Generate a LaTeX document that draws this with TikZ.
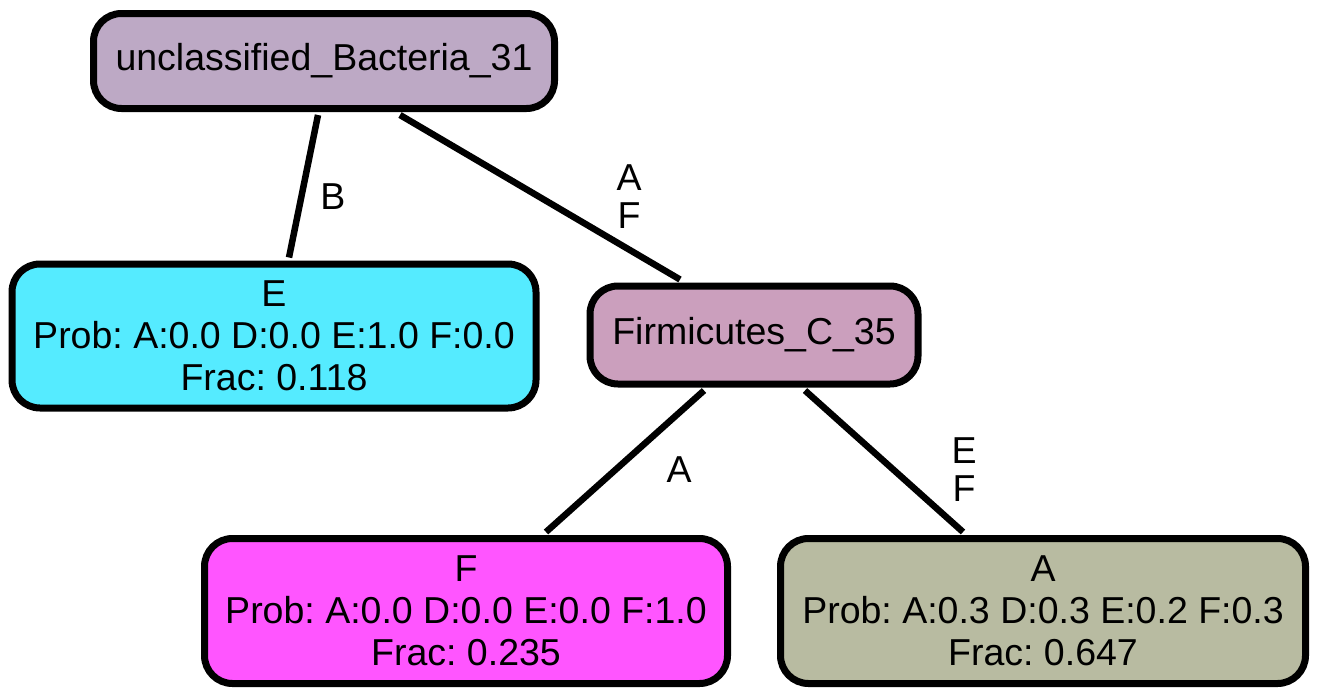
\documentclass[tikz,border=0pt]{standalone}
\usepackage{fontspec}
\setmainfont{Liberation Sans}
\frenchspacing
\definecolor{cRoot}{HTML}{BDA9C5}
\definecolor{cE}{HTML}{55EBFF}
\definecolor{cFirm}{HTML}{CB9FBD}
\definecolor{cF}{HTML}{FF55FF}
\definecolor{cA}{HTML}{B8BBA1}
\begin{document}
\begin{tikzpicture}[x=1pt,y=-1pt,
  tnode/.style={draw=black,line width=7pt,rounded corners=28pt,align=center,inner sep=0pt,
    font=\fontsize{37.5}{42}\selectfont},
  edge/.style={draw=black,line width=6.5pt},
  elabel/.style={font=\fontsize{37.5}{38}\selectfont,align=center,inner sep=0pt}]
\useasboundingbox (0,0) rectangle (1319,696);
\node[tnode,fill=cRoot,minimum width=461pt,minimum height=95pt] (root) at (324,61) {unclassified\_Bacteria\_31};
\node[tnode,fill=cE,minimum width=524pt,minimum height=144pt] (E) at (274,336) {E\\Prob: A:0.0 D:0.0 E:1.0 F:0.0\\Frac: 0.118};
\node[tnode,fill=cFirm,minimum width=328pt,minimum height=98pt] (firm) at (754,335) {Firmicutes\_C\_35};
\node[tnode,fill=cF,minimum width=523pt,minimum height=145pt] (F) at (466,611) {F\\Prob: A:0.0 D:0.0 E:0.0 F:1.0\\Frac: 0.235};
\node[tnode,fill=cA,minimum width=525pt,minimum height=145pt] (A) at (1043,611) {A\\Prob: A:0.3 D:0.3 E:0.2 F:0.3\\Frac: 0.647};
\draw[edge] ([xshift=-6pt,yshift=-3pt]root.south) -- ([xshift=15pt,yshift=3pt]E.north);
\draw[edge] ([xshift=76pt,yshift=-3pt]root.south) -- ([xshift=-74pt,yshift=3pt]firm.north);
\draw[edge] ([xshift=-50pt,yshift=-3pt]firm.south) -- ([xshift=80pt,yshift=3pt]F.north);
\draw[edge] ([xshift=51pt,yshift=-3pt]firm.south) -- ([xshift=-80pt,yshift=3pt]A.north);
\node[elabel] (lB) at (333,197) {B};
\node[elabel] (lAF) at (629,197) {A\\F};
\node[elabel] (lA) at (679,470) {A};
\node[elabel] (lEF) at (964,470) {E\\F};
\end{tikzpicture}
\end{document}
